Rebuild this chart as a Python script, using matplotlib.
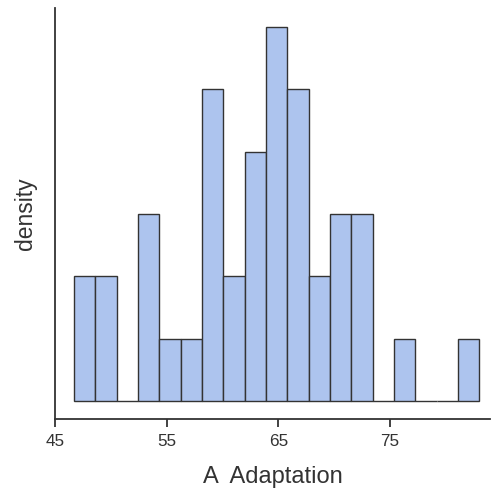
import matplotlib
matplotlib.use("Agg")
import matplotlib.pyplot as plt
import numpy as np

plt.rcParams['font.family'] = ['Liberation Sans', 'DejaVu Sans']

# Histogram data (bin left edges and counts)
bin_left = [46.70, 48.61, 50.52, 52.43, 54.34, 56.25, 58.16, 60.07, 61.98, 63.89,
            65.80, 67.71, 69.62, 71.53, 73.44, 75.35, 77.26, 79.17, 81.08]
bin_width = 1.91
counts = [2, 2, 0, 3, 1, 1, 5, 2, 4, 6, 5, 2, 3, 3, 0, 1, 0, 0, 1]
x_ticks = [45, 55, 65, 75]
x_label = "A  Adaptation"
y_label = "density"

n_total = sum(counts)
density = np.array(counts) / (n_total * bin_width)
unit = 1.0 / (n_total * bin_width)

fig = plt.figure(figsize=(4.92, 4.91), dpi=100)
ax = fig.add_axes([0.112, 0.1466, 0.884, 0.837])

ax.bar(bin_left, density, width=bin_width, align='edge',
       color='#adc4ee', edgecolor='#333333', linewidth=1.0)

ax.set_xlim(45, 83.95)
ax.set_ylim(-0.288 * unit, 6.30 * unit)
ax.set_xticks(x_ticks)
ax.set_yticks([])

for s in ['top', 'right']:
    ax.spines[s].set_visible(False)
for s in ['left', 'bottom']:
    ax.spines[s].set_color('#333333')
    ax.spines[s].set_linewidth(1.3)

ax.tick_params(axis='x', length=6, width=1.3, color='#333333',
               labelsize=12.3, labelcolor='#333333', pad=5)
ax.set_xlabel(x_label, fontsize=17, color='#333333', labelpad=12)
ax.set_ylabel(y_label, fontsize=16.5, color='#333333', labelpad=13)

fig.savefig("out.png", dpi=100)
